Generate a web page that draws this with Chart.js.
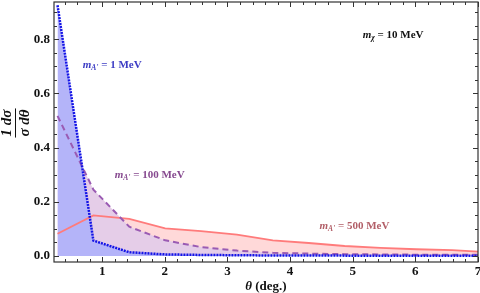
<!DOCTYPE html>
<html>
<head>
<meta charset="utf-8">
<script src="https://cdn.jsdelivr.net/npm/chart.js@4.4.1/dist/chart.umd.min.js"></script>
<style>
  html, body { margin: 0; padding: 0; background: #fff; }
  #wrap { width: 480px; height: 293px; }
</style>
</head>
<body>
<div id="wrap"><canvas id="dist"></canvas></div>
<script>
// ---- data ----
const theta      = [0.286, 0.859, 1.432, 2.005, 2.578, 3.151, 3.724, 4.297, 4.870, 5.443, 6.016, 6.589, 7.162];
const dist1MeV   = [0.925, 0.057, 0.014, 0.006, 0.004, 0.003, 0.002, 0.002, 0.0015, 0.001, 0.001, 0.001, 0.001];
const dist100MeV = [0.517, 0.245, 0.108, 0.058, 0.033, 0.020, 0.012, 0.009, 0.007, 0.006, 0.005, 0.005, 0.004];
const dist500MeV = [0.082, 0.150, 0.137, 0.102, 0.092, 0.079, 0.058, 0.048, 0.037, 0.030, 0.025, 0.022, 0.014];

const xTicks = [1, 2, 3, 4, 5, 6, 7];
const yTicks = [0, 0.2, 0.4, 0.6, 0.8];

const SERIF = "'Liberation Serif', 'DejaVu Serif', serif";

const toPts = ys => theta.map((x, i) => ({ x: x, y: ys[i] }));

// curve labels (m_A' = ...), placed in data units
const curveLabels = [
  { x: 0.69, y: 0.704, sub: "A'", rest: " = 1 MeV",   color: "#3c3cc4" },
  { x: 1.20, y: 0.298, sub: "A'", rest: " = 100 MeV", color: "#86498f" },
  { x: 4.47, y: 0.111, sub: "A'", rest: " = 500 MeV", color: "#b25f68" },
  { x: 5.16, y: 0.815, sub: "\u03c7", rest: " = 10 MeV", color: "#111" }
];

// m with subscript, then rest of the text
function drawMLabel(ctx, x, y, sub, rest, color) {
  ctx.save();
  ctx.fillStyle = color;
  ctx.textBaseline = "middle";
  ctx.textAlign = "left";
  ctx.font = "italic bold 11px " + SERIF;
  ctx.fillText("m", x, y);
  let cx = x + ctx.measureText("m").width;
  ctx.font = "italic bold 7.5px " + SERIF;
  ctx.fillText(sub, cx, y + 3);
  cx += ctx.measureText(sub).width;
  ctx.font = "bold 11px " + SERIF;
  ctx.fillText(rest, cx, y);
  ctx.restore();
}

// Mathematica-like frame with inward ticks, axis titles and labels
const framePlugin = {
  id: "frame",
  afterDraw(chart) {
    const { ctx, chartArea: a, scales } = chart;
    const xs = scales.x, ys = scales.y;
    ctx.save();
    ctx.strokeStyle = "#333";
    ctx.lineWidth = 1.2;
    ctx.strokeRect(a.left, a.top, a.right - a.left, a.bottom - a.top);

    ctx.lineWidth = 1;
    ctx.beginPath();
    // x ticks every 0.2, major at integers
    for (let k = 1; k <= 35; k++) {
      const v = k * 0.2;
      if (v < xs.min || v > xs.max) continue;
      const px = Math.round(xs.getPixelForValue(v)) + 0.5;
      const len = (k % 5 === 0) ? 5 : 3;
      ctx.moveTo(px, a.bottom); ctx.lineTo(px, a.bottom - len);
      ctx.moveTo(px, a.top);    ctx.lineTo(px, a.top + len);
    }
    // y ticks every 0.05, major at 0.2
    for (let k = 0; k <= 18; k++) {
      const v = k * 0.05;
      if (v < ys.min || v > ys.max) continue;
      const py = Math.round(ys.getPixelForValue(v)) + 0.5;
      const len = (k % 4 === 0) ? 5 : 3;
      ctx.moveTo(a.left, py);  ctx.lineTo(a.left + len, py);
      ctx.moveTo(a.right, py); ctx.lineTo(a.right - len, py);
    }
    ctx.stroke();

    // curve labels
    curveLabels.forEach(l => {
      drawMLabel(ctx, xs.getPixelForValue(l.x), ys.getPixelForValue(l.y), l.sub, l.rest, l.color);
    });

    // y title: 1 dσ / σ dθ, rotated
    ctx.translate(15, 123);
    ctx.rotate(-Math.PI / 2);
    ctx.fillStyle = "#111";
    ctx.textAlign = "center";
    ctx.textBaseline = "middle";
    ctx.font = "italic bold 15px " + SERIF;
    const w = Math.max(ctx.measureText("1 d\u03c3").width, ctx.measureText("\u03c3 d\u03b8").width) + 2;
    ctx.fillText("1 d\u03c3", 0, -8);
    ctx.fillText("\u03c3 d\u03b8", 0, 10);
    ctx.strokeStyle = "#111";
    ctx.lineWidth = 1;
    ctx.beginPath();
    ctx.moveTo(-w / 2, 0.5); ctx.lineTo(w / 2, 0.5);
    ctx.stroke();
    ctx.setTransform(1, 0, 0, 1, 0, 0);

    // x title: θ (deg.)
    const cx = (a.left + a.right) / 2;
    ctx.textBaseline = "middle";
    ctx.textAlign = "left";
    ctx.font = "italic bold 13px " + SERIF;
    const t1 = "\u03b8";
    const w1 = ctx.measureText(t1).width;
    ctx.font = "bold 13px " + SERIF;
    const t2 = " (deg.)";
    const w2 = ctx.measureText(t2).width;
    let sx = cx - (w1 + w2) / 2;
    ctx.font = "italic bold 13px " + SERIF;
    ctx.fillText(t1, sx, 287);
    ctx.font = "bold 13px " + SERIF;
    ctx.fillText(t2, sx + w1, 287);
    ctx.restore();
  }
};

const tickFont = { family: SERIF, size: 13, weight: "bold" };

new Chart(document.getElementById("dist"), {
  type: "line",
  data: {
    datasets: [
      {
        label: "m_A' = 1 MeV",
        data: toPts(dist1MeV),
        borderColor: "#1414e6",
        backgroundColor: "rgb(180,180,249)",
        borderWidth: 2.5,
        borderDash: [2, 1],
        fill: "origin",
        pointRadius: 0,
        tension: 0
      },
      {
        label: "m_A' = 100 MeV",
        data: toPts(dist100MeV),
        borderColor: "#9a5bb3",
        backgroundColor: "rgb(229,205,232)",
        borderWidth: 2,
        borderDash: [6, 4],
        fill: "origin",
        pointRadius: 0,
        tension: 0
      },
      {
        label: "m_A' = 500 MeV",
        data: toPts(dist500MeV),
        borderColor: "#ff7b7b",
        backgroundColor: "rgb(255,217,217)",
        borderWidth: 1.8,
        fill: "origin",
        pointRadius: 0,
        tension: 0
      }
    ]
  },
  options: {
    responsive: true,
    maintainAspectRatio: false,
    animation: false,
    layout: { padding: { top: 2, right: 2, left: 0, bottom: 0 } },
    plugins: {
      legend: { display: false },
      tooltip: { enabled: false },
      filler: { drawTime: "beforeDatasetsDraw" }
    },
    scales: {
      x: {
        type: "linear",
        min: 0.23,
        max: 7,
        grid: { display: false, drawTicks: false },
        border: { display: false },
        afterBuildTicks: s => { s.ticks = xTicks.map(v => ({ value: v })); },
        ticks: { font: tickFont, color: "#111", padding: 2, maxRotation: 0, callback: v => String(v) },
        afterFit: s => { s.height = 31; s.paddingLeft = 0; s.paddingRight = 0; }
      },
      y: {
        type: "linear",
        min: -0.022,
        max: 0.937,
        grid: { display: false, drawTicks: false },
        border: { display: false },
        afterBuildTicks: s => { s.ticks = yTicks.map(v => ({ value: v })); },
        ticks: { font: tickFont, color: "#111", padding: 4, callback: v => v.toFixed(1) },
        afterFit: s => { s.width = 54; s.paddingTop = 0; s.paddingBottom = 0; }
      }
    }
  },
  plugins: [framePlugin]
});
</script>
</body>
</html>
